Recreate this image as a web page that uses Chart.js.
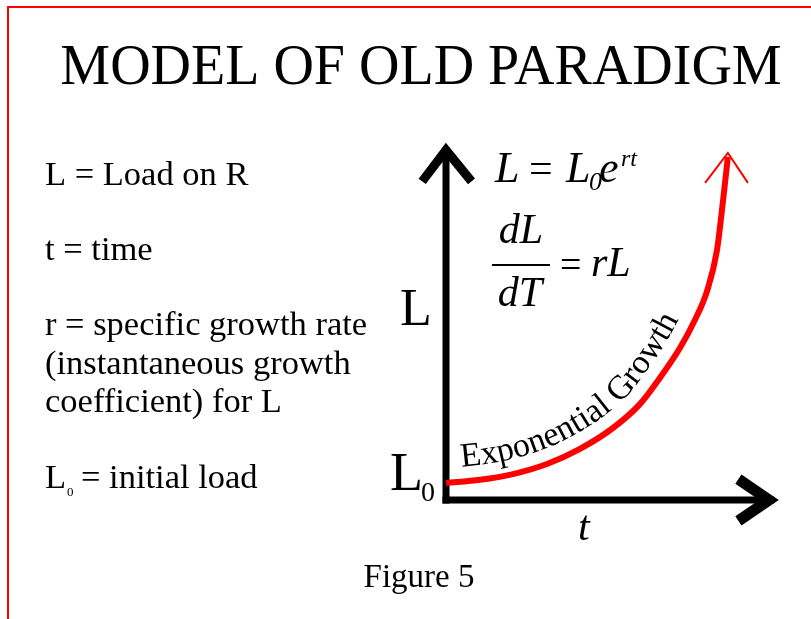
<!DOCTYPE html>
<html>
<head>
<meta charset="utf-8">
<script src="https://cdn.jsdelivr.net/npm/chart.js@4"></script>
<style>
html,body{margin:0;padding:0;background:#fff;overflow:hidden;width:811px;height:619px;}
#frame{position:absolute;left:7px;top:6px;width:840px;height:660px;border-left:2px solid #ff0000;border-top:2px solid #ff0000;}
#c{position:absolute;left:0;top:0;}
</style>
</head>
<body>
<div id="frame"></div>
<canvas id="c" width="811" height="619"></canvas>
<script>
// ---- text content ----
const titleText = "MODEL OF OLD PARADIGM";
const captionText = "Figure 5";
const legendLines = ["L = Load on R", "t = time", "r = specific growth rate", "(instantaneous growth", "coefficient) for L"];
const initialLoadText = "= initial load";
const curveLabel = "Exponential Growth";
const yAxisLabel = "L";
const xAxisLabel = "t";

// ---- data (t = time, L = load) ----
const curveT = [0, 1.0, 1.97, 2.97, 3.94, 4.91, 5.71, 6.29, 6.88, 7.32, 7.68, 7.97, 8.15, 8.29];
const curveL = [0.47, 0.56, 0.72, 1.0, 1.42, 2.0, 2.67, 3.39, 4.22, 5.0, 5.81, 6.94, 8.33, 9.53];
// axis lines and arrow heads (in t / L units)
const yAxisT = [0, 0];
const yAxisL = [0, 9.7];
const xAxisT = [0, 9.55];
const xAxisL = [0, 0];
const yArrowT = [-0.7, 0, 0.75];
const yArrowL = [8.85, 9.72, 8.85];
const xArrowT = [8.6, 9.5, 8.6];
const xArrowL = [0.58, 0, -0.58];
const curveArrowT = [7.62, 8.29, 8.88];
const curveArrowL = [8.81, 9.64, 8.81];

const toXY = (xs, ys) => xs.map((x, i) => ({x: x, y: ys[i]}));

const SERIF = '"Liberation Serif", "Times New Roman", serif';

function sampleCurve(pts) {
  const out = [];
  for (let i = 0; i < pts.length - 1; i++) {
    const p0 = pts[i], p3 = pts[i + 1];
    const c1x = p0.cp2x !== undefined ? p0.cp2x : p0.x, c1y = p0.cp2y !== undefined ? p0.cp2y : p0.y;
    const c2x = p3.cp1x !== undefined ? p3.cp1x : p3.x, c2y = p3.cp1y !== undefined ? p3.cp1y : p3.y;
    for (let k = 0; k < 12; k++) {
      const u = k / 12, v = 1 - u;
      out.push({
        x: v*v*v*p0.x + 3*v*v*u*c1x + 3*v*u*u*c2x + u*u*u*p3.x,
        y: v*v*v*p0.y + 3*v*v*u*c1y + 3*v*u*u*c2y + u*u*u*p3.y
      });
    }
  }
  const last = pts[pts.length - 1];
  out.push({x: last.x, y: last.y});
  return out;
}

function drawTextOnPath(ctx, pts, text, offset, start) {
  const off = [];
  for (let i = 0; i < pts.length; i++) {
    const a = pts[Math.max(0, i - 1)], b = pts[Math.min(pts.length - 1, i + 1)];
    let tx = b.x - a.x, ty = b.y - a.y;
    const len = Math.hypot(tx, ty) || 1;
    tx /= len; ty /= len;
    off.push({x: pts[i].x + ty * offset, y: pts[i].y - tx * offset});
  }
  const cum = [0];
  for (let i = 1; i < off.length; i++) cum.push(cum[i - 1] + Math.hypot(off[i].x - off[i - 1].x, off[i].y - off[i - 1].y));
  function at(s) {
    let i = 1;
    while (i < off.length - 1 && cum[i] < s) i++;
    const a = off[i - 1], b = off[i];
    const seg = cum[i] - cum[i - 1] || 1;
    const f = (s - cum[i - 1]) / seg;
    return {x: a.x + (b.x - a.x) * f, y: a.y + (b.y - a.y) * f, ang: Math.atan2(b.y - a.y, b.x - a.x)};
  }
  let s = start;
  ctx.textAlign = 'center';
  ctx.textBaseline = 'alphabetic';
  for (const ch of text) {
    const w = ctx.measureText(ch).width;
    const p = at(s + w / 2);
    ctx.save();
    ctx.translate(p.x, p.y);
    ctx.rotate(p.ang);
    ctx.fillText(ch, 0, 0);
    ctx.restore();
    s += w;
  }
}

function txt(ctx, s, x, y, font, align) {
  ctx.font = font;
  ctx.textAlign = align || 'left';
  ctx.textBaseline = 'alphabetic';
  ctx.fillText(s, x, y);
}

const textPlugin = {
  id: 'figureText',
  afterDraw(chart) {
    const ctx = chart.ctx;
    ctx.save();
    ctx.fillStyle = '#000';
    // title
    txt(ctx, titleText, 421, 84, '56px ' + SERIF, 'center');
    // left definitions
    const baselines = [185, 260, 335, 374, 412];
    legendLines.forEach((s, i) => txt(ctx, s, 45, baselines[i], '34.5px ' + SERIF));
    txt(ctx, 'L', 45, 488, '34.5px ' + SERIF);
    txt(ctx, '0', 67, 496, '13px ' + SERIF);
    txt(ctx, initialLoadText, 81, 488, '34.5px ' + SERIF);
    // equation L = L0 e^rt
    txt(ctx, 'L', 495, 182, 'italic 44px ' + SERIF);
    txt(ctx, '=', 529, 182, '42px ' + SERIF);
    txt(ctx, 'L', 566, 182, 'italic 44px ' + SERIF);
    txt(ctx, '0', 589, 190, 'italic 26px ' + SERIF);
    txt(ctx, 'e', 599, 182, 'italic 44px ' + SERIF);
    txt(ctx, 'rt', 621, 166, 'italic 24px ' + SERIF);
    // dL/dT = rL
    txt(ctx, 'dL', 521, 243, 'italic 42px ' + SERIF, 'center');
    ctx.fillRect(492, 264, 58, 2);
    txt(ctx, 'dT', 520, 306, 'italic 42px ' + SERIF, 'center');
    txt(ctx, '=', 560, 277, '38px ' + SERIF);
    txt(ctx, 'rL', 591, 276, 'italic 42px ' + SERIF);
    // axis labels
    txt(ctx, yAxisLabel, 400, 325, '52px ' + SERIF);
    txt(ctx, 'L', 390, 490, '54px ' + SERIF);
    txt(ctx, '0', 421, 501, '28px ' + SERIF);
    txt(ctx, xAxisLabel, 578, 540, 'italic 42px ' + SERIF);
    // caption
    txt(ctx, captionText, 419, 587, '33px ' + SERIF, 'center');
    // label along the curve
    const meta = chart.getDatasetMeta(0);
    const pts = sampleCurve(meta.data);
    ctx.font = '34px ' + SERIF;
    drawTextOnPath(ctx, pts, curveLabel, 15, 17);
    ctx.restore();
  }
};

new Chart(document.getElementById('c'), {
  type: 'scatter',
  data: {
    datasets: [
      {data: toXY(curveT, curveL), showLine: true, borderColor: '#ff0000', borderWidth: 6, pointRadius: 0, cubicInterpolationMode: 'monotone', borderCapStyle: 'butt'},
      {data: toXY(curveArrowT, curveArrowL), showLine: true, borderColor: '#ff0000', borderWidth: 2, pointRadius: 0, tension: 0},
      {data: toXY(yAxisT, yAxisL), showLine: true, borderColor: '#000', borderWidth: 7, pointRadius: 0, borderCapStyle: 'square', tension: 0},
      {data: toXY(xAxisT, xAxisL), showLine: true, borderColor: '#000', borderWidth: 7, pointRadius: 0, borderCapStyle: 'square', tension: 0},
      {data: toXY(yArrowT, yArrowL), showLine: true, borderColor: '#000', borderWidth: 9, pointRadius: 0, borderJoinStyle: 'miter', tension: 0},
      {data: toXY(xArrowT, xArrowL), showLine: true, borderColor: '#000', borderWidth: 11, pointRadius: 0, borderJoinStyle: 'miter', tension: 0}
    ]
  },
  options: {
    responsive: false,
    animation: false,
    devicePixelRatio: 1,
    layout: {autoPadding: false, padding: {left: 412, right: 25, top: 140, bottom: 83}},
    scales: {
      x: {type: 'linear', min: -1, max: 10, display: false},
      y: {type: 'linear', min: -1, max: 10, display: false}
    },
    plugins: {legend: {display: false}, tooltip: {enabled: false}}
  },
  plugins: [textPlugin]
});
</script>
</body>
</html>
